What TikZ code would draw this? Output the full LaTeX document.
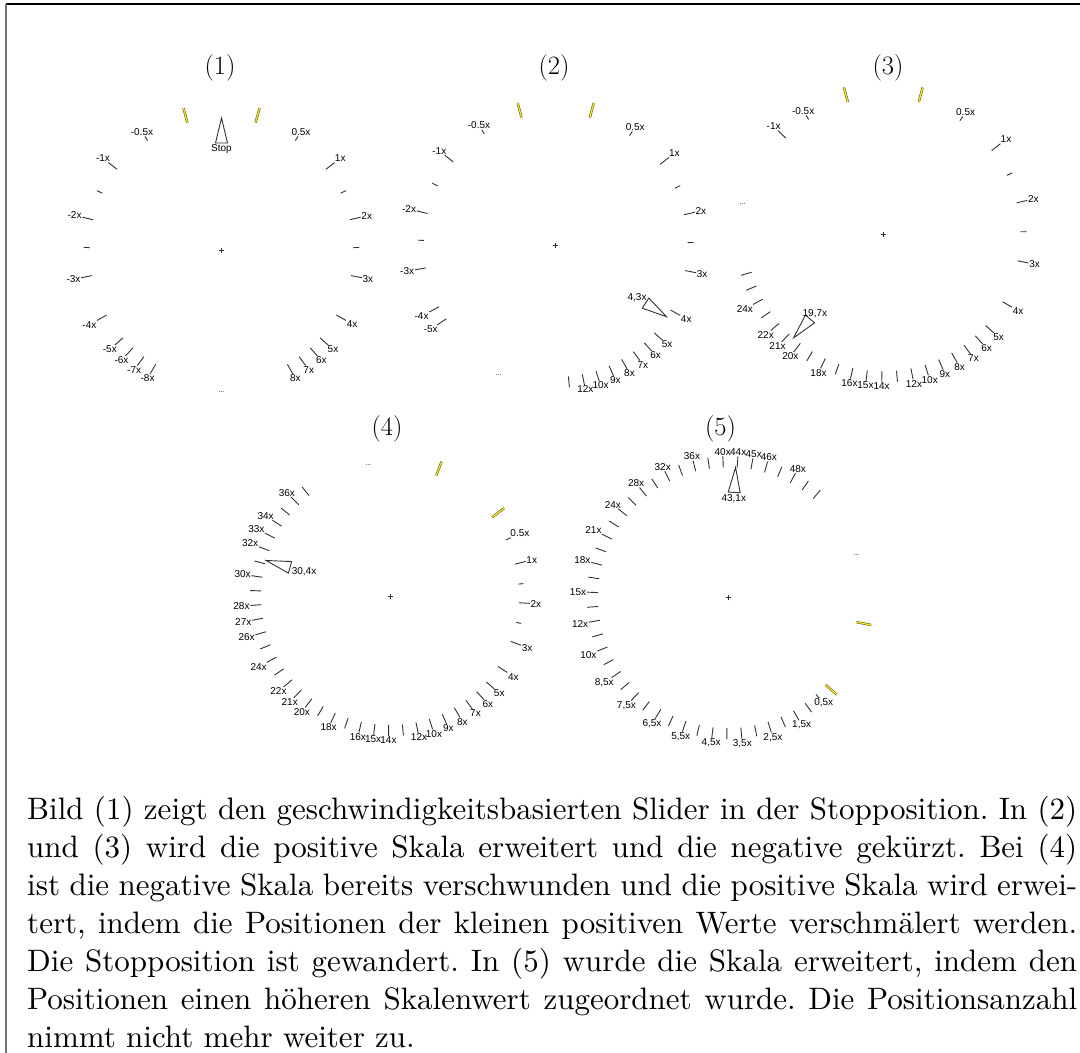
\documentclass[tikz,border=0pt]{standalone}
\usepackage{fontspec}
\newfontfamily\guifont{Liberation Sans}
\newfontfamily\bodyrm{lmroman10-regular.otf}[Ligatures=TeX]
\newcommand\bodyfont{\bodyrm\fontsize{31}{38}\selectfont\frenchspacing}
\newcommand\titlefont{\fontsize{26.5}{30}\selectfont}
\definecolor{markyellow}{RGB}{250,232,0}

% one scale tick: angle, length, label
\newcommand\tk[3]{%
  \pgfmathsetmacro\tkout{\dialR+#2}%
  \pgfmathsetmacro\tkanc{mod(#1+540,360)}%
  \draw[dtick] (#1:\dialR) -- (#1:\tkout);
  \node[tlab,anchor=\tkanc] at (#1:\tkout) {#3};}
% yellow boundary mark
\newcommand\ytk[1]{%
  \pgfmathsetmacro\tkout{\dialR+15}%
  \draw[ytickdark] (#1:\dialR) -- (#1:\tkout);
  \draw[ytickfill] (#1:\dialR) -- (#1:\tkout);}
% triangular pointer with its value
\newcommand\ptr[2]{%
  \pgfmathsetmacro\ptrb{\dialR-25}%
  \pgfmathsetmacro\ptrl{\dialR-26}%
  \pgfmathsetmacro\ptra{mod(#1+360,360)}%
  \draw[ptrline,rotate=#1] (\dialR,0) -- (\ptrb,6) -- (\ptrb,-6) -- cycle;
  \node[tlab,anchor=\ptra] at (#1:\ptrl) {#2};}
\newcommand\hub{\draw[dtick] (-2.5,0) -- (2.5,0) (0,-2.5) -- (0,2.5);}

\begin{document}
\begin{tikzpicture}[x=1pt,y=1pt,
  dtick/.style={draw=black!80,line width=0.9pt},
  ytickdark/.style={draw=black!70,line width=2.3pt},
  ytickfill/.style={draw=markyellow,line width=1.3pt},
  ptrline/.style={draw=black!80,line width=0.9pt,fill=white},
  tlab/.style={font=\guifont\fontsize{10}{10}\selectfont,inner sep=0.6pt},
  dots/.style={font=\guifont\fontsize{7}{7}\selectfont,inner sep=0pt},
  title/.style={font=\titlefont,inner sep=0pt},
  bodyline/.style={font=\bodyfont,inner sep=0pt,anchor=base west}]
\useasboundingbox (0,0) rectangle (1080,-1053);
\fill[white] (0,0) rectangle (1080,-1053);

% frame
\draw[black,line width=1.2pt] (6,-4) -- (1080,-4);
\draw[black!55,line width=2pt] (6,-4) -- (6,-1053);

% titles
\node[title] (t1) at (220,-68) {(1)};
\node[title] (t2) at (554,-68) {(2)};
\node[title] (t3) at (888,-68) {(3)};
\node[title] (t4) at (387,-429) {(4)};
\node[title] (t5) at (720.5,-429) {(5)};

% ---------- dial 1: stop position ----------
\def\dialR{132}
\begin{scope}[shift={(221.5,-250)}]
  \hub
  \ytk{75}\ytk{105}
  \ptr{90}{Stop}
  \foreach \k/\l in {9/1x,13/2x,17/3x,20/4x,22/5x,23/6x,24/7x,25/8x}{
    \pgfmathsetmacro\ang{92.7-6.11*\k}
    \tk{\ang}{11}{\l}
    \pgfmathsetmacro\ang{87.3+6.11*\k}
    \tk{\ang}{11}{-\l}
  }
  \foreach \k in {11,15}{
    \pgfmathsetmacro\ang{92.7-6.11*\k}
    \tk{\ang}{6}{}
    \pgfmathsetmacro\ang{87.3+6.11*\k}
    \tk{\ang}{6}{}
  }
  \tk{56}{5}{0.5x}
  \tk{124}{5}{-0.5x}
  \node[dots] at (270:142) {...};
\end{scope}

% ---------- dial 2 ----------
\def\dialR{132}
\begin{scope}[shift={(555.7,-245)}]
  \hub
  \ytk{75}\ytk{105}
  \foreach \k/\l in {9/1x,13/2x,17/3x,20/4x,22/5x,23/6x,24/7x,25/8x,26/9x,27/10x,28/12x,29/{}}{
    \pgfmathsetmacro\ang{92.7-6.11*\k}
    \tk{\ang}{11}{\l}
  }
  \foreach \k in {11,15}{
    \pgfmathsetmacro\ang{92.7-6.11*\k}
    \tk{\ang}{6}{}
  }
  \tk{56}{5}{0.5x}
  \tk{122.7}{5}{-0.5x}
  \tk{141}{11}{-1x}
  \tk{153.4}{6}{}
  \tk{166.2}{11}{-2x}
  \tk{178}{6}{}
  \tk{190}{11}{-3x}
  \tk{207.9}{11}{-4x}
  \tk{214}{11}{-5x}
  \node[dots] at (246.4:142) {...};
  \ptr{-32.9}{4,3x}
\end{scope}

% ---------- dial 3 ----------
\def\dialR{137}
\begin{scope}[shift={(883.3,-234.3)}]
  \hub
  \ytk{75}\ytk{105}
  \foreach \k/\l in {9/1x,13/2x,17/3x,20/4x,22/5x,23/6x,24/7x,25/8x,26/9x,27/10x,28/12x,29/{},
      30/14x,31/15x,32/16x,33/{},34/18x,35/{},36/20x,37/21x,38/22x,39/{},40/24x,41/{},42/{}}{
    \pgfmathsetmacro\ang{92.7-6.11*\k}
    \tk{\ang}{11}{\l}
  }
  \foreach \k in {11,15}{
    \pgfmathsetmacro\ang{92.7-6.11*\k}
    \tk{\ang}{6}{}
  }
  \tk{56}{5}{0.5x}
  \tk{123}{5}{-0.5x}
  \tk{135.4}{11}{-1x}
  \node[dots] at (167.8:144) {...};
  \ptr{-130.9}{19,7x}
\end{scope}

% ---------- dial 4 ----------
\def\dialR{129}
\begin{scope}[shift={(390,-596)}]
  \hub
  \ytk{69}\ytk{37.6}
  \tk{25.8}{5}{0.5x}
  \tk{14.3}{11}{1x}
  \tk{5.3}{5}{}
  \tk{-3}{11}{2x}
  \tk{-11.8}{5}{}
  \tk{-20.6}{11}{3x}
  \tk{-33.1}{11}{4x}
  \foreach \k/\l in {22/5x,23/6x,24/7x,25/8x,26/9x,27/10x,28/12x,29/{},
      30/14x,31/15x,32/16x,33/{},34/18x,35/{},36/20x,37/21x,38/22x,39/{},40/24x,41/{},
      42/26x,43/27x,44/28x,45/{},46/30x,47/{},48/32x,49/33x,50/34x,51/{},52/36x,53/{}}{
    \pgfmathsetmacro\ang{92.7-6.11*\k}
    \tk{\ang}{11}{\l}
  }
  \node[dots] at (99.4:133) {...};
  \ptr{164}{30,4x}
\end{scope}

% ---------- dial 5 ----------
\def\dialR{130.5}
\begin{scope}[shift={(728.3,-597.7)}]
  \hub
  \ytk{-41.8}\ytk{-10.8}
  \pgfmathsetmacro\ang{92.7-6.11*23}
  \tk{\ang}{5}{0,5x}
  \foreach \k/\l in {24/{},25/{1,5x},26/{},27/{2,5x},28/{},29/{3,5x},30/{},31/{4,5x},32/{},
      33/{5,5x},34/{},35/{6,5x},36/{},37/{7,5x},38/{},39/{8,5x},40/{},41/10x,42/{},43/12x,
      44/{},45/15x,46/{},47/18x,48/{},49/21x,50/{},51/24x,52/{},53/28x,54/{},55/32x,56/{},
      57/36x,58/{},59/40x,60/44x,61/45x,62/46x,63/{},64/48x,65/{},66/{}}{
    \pgfmathsetmacro\ang{92.7-6.11*\k}
    \tk{\ang}{11}{\l}
  }
  \node[dots] at (18.5:135) {...};
  \ptr{86.8}{43,1x}
\end{scope}

% caption text
\node[bodyline] (l1) at (27,-819) {\makebox[1050pt][s]{Bild (1) zeigt den geschwindigkeitsbasierten Slider in der Stopposition. In (2)}};
\node[bodyline] (l2) at (27,-857) {\makebox[1050pt][s]{und (3) wird die positive Skala erweitert und die negative gekürzt. Bei (4)}};
\node[bodyline] (l3) at (27,-895) {\makebox[1050pt][s]{ist die negative Skala bereits verschwunden und die positive Skala wird erwei-}};
\node[bodyline] (l4) at (27,-933) {\makebox[1050pt][s]{tert, indem die Positionen der kleinen positiven Werte verschmälert werden.}};
\node[bodyline] (l5) at (27,-971) {\makebox[1050pt][s]{Die Stopposition ist gewandert. In (5) wurde die Skala erweitert, indem den}};
\node[bodyline] (l6) at (27,-1009) {\makebox[1050pt][s]{Positionen einen höheren Skalenwert zugeordnet wurde. Die Positionsanzahl}};
\node[bodyline] (l7) at (27,-1047) {nimmt nicht mehr weiter zu.};
\end{tikzpicture}
\end{document}
